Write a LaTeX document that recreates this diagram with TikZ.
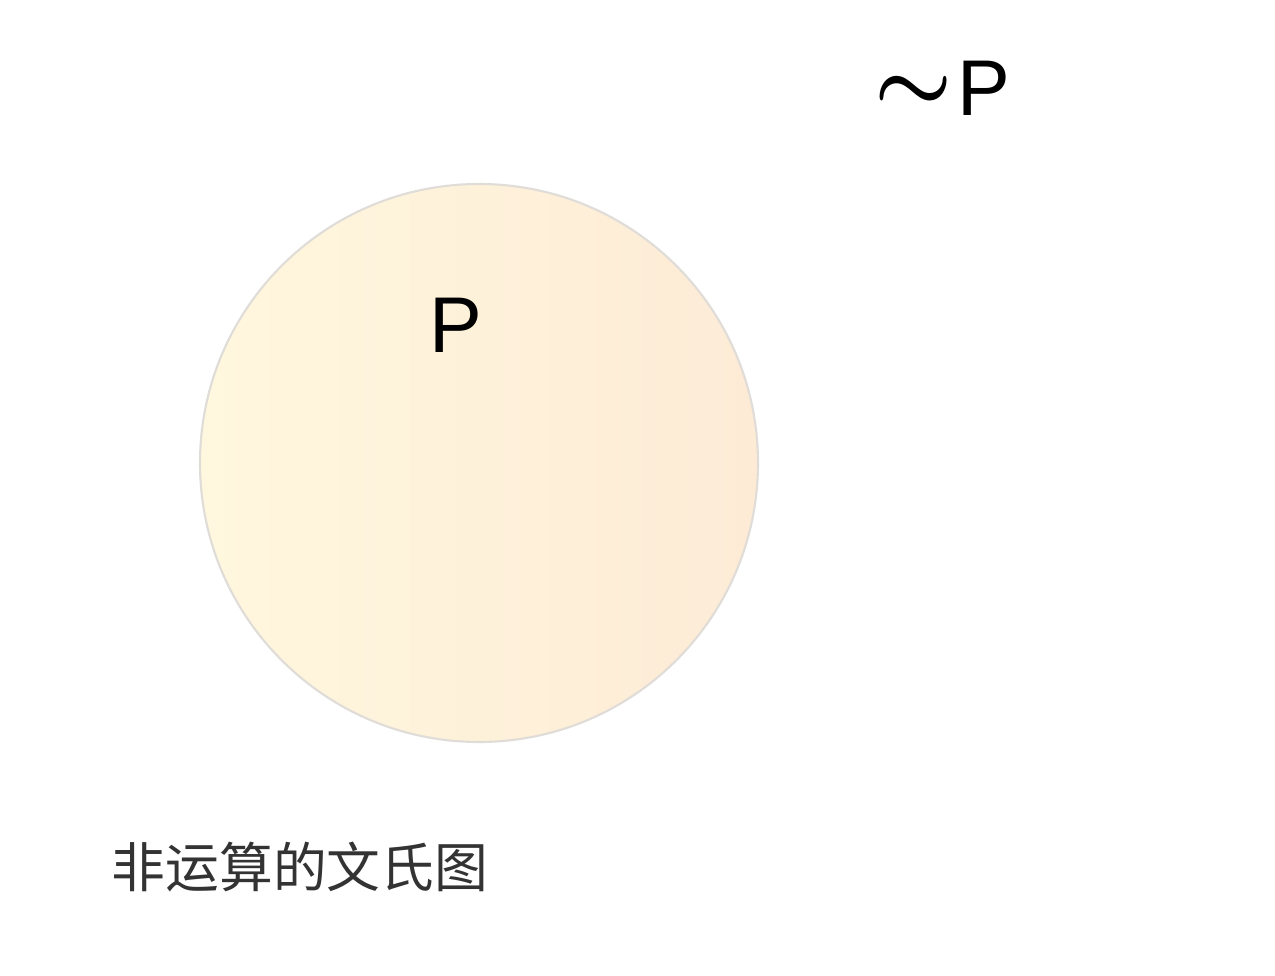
\documentclass[tikz,border=0pt]{standalone}
\usepackage{amsmath,amssymb}
\usepackage{fontspec}
\setmainfont{Liberation Sans}
\newfontfamily\cjk{Noto Sans CJK SC}
\usepackage{tikz}
\definecolor{setleft}{HTML}{FFF7DE}
\definecolor{setright}{HTML}{FDEBD6}
\definecolor{setedge}{HTML}{E0DCD8}
\definecolor{captiongray}{HTML}{333333}

\begin{document}
\begin{tikzpicture}[every node/.style={inner sep=0pt},
  setlabel/.style={font=\fontsize{22.5}{26}\selectfont}]
\useasboundingbox (0,0) rectangle (12.75,9.75);
\fill[white] (0,0) rectangle (12.75,9.75);
\node[circle,minimum size=5.58cm,draw=setedge,line width=0.6pt,
  left color=setleft,right color=setright] (P) at (4.79,5.12) {};
\node[setlabel] (Plabel) at (4.56,6.50) {P};
\node[setlabel] (notP) at (9.425,8.87) {{\fontsize{27}{27}\selectfont\raisebox{0.05em}{$\boldsymbol{\sim}$}}\hspace{1.5pt}P};
\node[font=\cjk\fontsize{15.3}{18}\selectfont,text=captiongray,anchor=west] (caption) at (1.11,1.08) {非运算的文氏图};
\end{tikzpicture}
\end{document}
